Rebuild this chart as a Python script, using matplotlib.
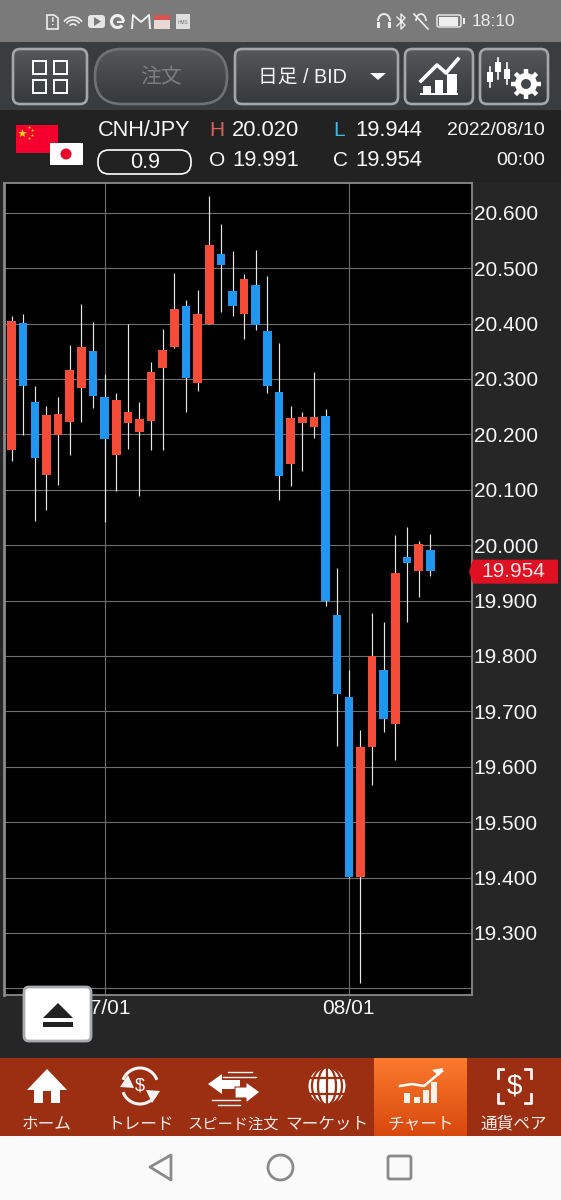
import numpy as np
import matplotlib
matplotlib.use('Agg')
import matplotlib.pyplot as plt
from matplotlib.patches import FancyBboxPatch, Polygon, Circle, Rectangle, Arc

#fonts: latin first, japanese falls through to noto
plt.rcParams['font.family'] = ['Liberation Sans', 'Noto Sans CJK JP', 'DejaVu Sans']

#candle values, one per day
opens = [20.172, 20.401, 20.258, 20.127, 20.198, 20.222, 20.284, 20.350, 20.267, 20.162,
         20.221, 20.205, 20.224, 20.320, 20.358, 20.431, 20.292, 20.400, 20.525, 20.458,
         20.417, 20.470, 20.386, 20.276, 20.146, 20.220, 20.214, 20.233, 19.874, 19.726,
         19.401, 19.636, 19.774, 19.678, 19.978, 19.954, 19.991]
highs = [20.414, 20.417, 20.288, 20.251, 20.267, 20.361, 20.435, 20.402, 20.308, 20.274,
         20.400, 20.258, 20.331, 20.390, 20.491, 20.443, 20.461, 20.630, 20.580, 20.531,
         20.489, 20.532, 20.485, 20.364, 20.251, 20.241, 20.313, 20.245, 19.958, 19.774,
         19.667, 19.877, 19.862, 20.018, 20.032, 20.008, 20.020]
lows = [20.152, 20.198, 20.044, 20.064, 20.109, 20.163, 20.222, 20.248, 20.041, 20.097,
        20.174, 20.088, 20.171, 20.171, 20.355, 20.240, 20.279, 20.400, 20.421, 20.414,
        20.372, 20.388, 20.275, 20.082, 20.106, 20.134, 20.193, 19.890, 19.637, 19.399,
        19.210, 19.568, 19.663, 19.613, 19.862, 19.906, 19.944]
closes = [20.405, 20.288, 20.157, 20.235, 20.237, 20.316, 20.357, 20.269, 20.191, 20.262,
          20.241, 20.228, 20.312, 20.352, 20.427, 20.302, 20.417, 20.542, 20.506, 20.432,
          20.480, 20.398, 20.288, 20.124, 20.230, 20.231, 20.231, 19.899, 19.732, 19.401,
          19.636, 19.800, 19.686, 19.949, 19.968, 20.002, 19.954]

price_ticks = [19.3, 19.4, 19.5, 19.6, 19.7, 19.8, 19.9, 20.0, 20.1, 20.2, 20.3, 20.4, 20.5, 20.6]
date_ticks = [8, 29]
date_labels = ['07/01', '08/01']
last_price = 19.954

tab_labels = ['ホーム', 'トレード', 'スピード注文', 'マーケット', 'チャート', '通貨ペア']

RED = '#F44C38'
BLUE = '#2196F0'
PANEL = '#262626'
W, H = 561, 1200

fig = plt.figure(figsize=(W / 100, H / 100), dpi=100, facecolor=PANEL)

#---------------------------- chart itself ----------------------------#
ax = fig.add_axes([4 / W, 1 - 994.5 / H, 467.5 / W, 811.5 / H], facecolor='black', zorder=1)
x = np.arange(len(opens))
o, h, l, c = map(np.array, (opens, highs, lows, closes))
colors = [RED if up else BLUE for up in c >= o]

ax.vlines(x, l, h, color='#e6e6e6', lw=0.85, zorder=3)
ax.bar(x, np.abs(c - o), bottom=np.minimum(o, c), width=0.74, color=colors, zorder=4)

ax.set_xlim(-0.65, 39.55)
ax.set_ylim(19.189, 20.6536)
ax.set_axisbelow(True)

#19.200 has a grid line but no label
ax.set_yticks([19.2] + price_ticks)
ax.set_yticklabels([''] + [f'{p:.3f}' for p in price_ticks])
ax.set_xticks(date_ticks)
ax.set_xticklabels(date_labels)
ax.yaxis.tick_right()
ax.tick_params(axis='y', length=0, pad=1.5, labelsize=15, labelcolor='#f7f7f7')
ax.tick_params(axis='x', length=0, pad=3.5, labelsize=15, labelcolor='#f7f7f7')
ax.grid(True, color='#6e6e6e', lw=0.8)
for name, spine in ax.spines.items():
    spine.set_color('#8a8a8a')
    spine.set_linewidth(1.3)
ax.spines['left'].set_linewidth(2)

#---------------------------- app chrome on top, in pixels ----------------------------#
ui = fig.add_axes([0, 0, 1, 1], zorder=2)
ui.patch.set_alpha(0)
ui.axis('off')


def reset_view():
    ui.set_xlim(0, W)
    ui.set_ylim(H, 0)


def hexrgb(col):
    return matplotlib.colors.to_rgb(col)


def grad(x0, x1, y0, y1, top, bottom, clip=None, z=1):
    a, b = np.array(hexrgb(top)), np.array(hexrgb(bottom))
    t = np.linspace(0, 1, 64)[:, None, None]
    img = a[None, None, :] * (1 - t) + b[None, None, :] * t
    im = ui.imshow(img, extent=[x0, x1, y1, y0], aspect='auto', zorder=z, interpolation='bilinear')
    if clip is not None:
        im.set_clip_path(clip)
    reset_view()


def rect(x0, y0, x1, y1, col, z=1, **kw):
    ui.add_patch(Rectangle((x0, y0), x1 - x0, y1 - y0, fc=col, ec='none', zorder=z, **kw))


def txt(px, py, s, size=15, col='#f7f7f7', ha='left', va='center', z=6, **kw):
    ui.text(px, py, s, fontsize=size, color=col, ha=ha, va=va, zorder=z, **kw)


def button(x0, y0, x1, y1, rad=7, edge='#a3a7a9', lw=1.9, alpha=1):
    fill = FancyBboxPatch((x0 + rad, y0 + rad), x1 - x0 - 2 * rad, y1 - y0 - 2 * rad,
                          boxstyle=f'round,pad={rad},rounding_size={rad}', fc='none', ec='none', zorder=2)
    ui.add_patch(fill)
    grad(x0, x1, y0, y1, '#54585b', '#36393b', clip=fill, z=2)
    ui.add_patch(FancyBboxPatch((x0 + rad, y0 + rad), x1 - x0 - 2 * rad, y1 - y0 - 2 * rad,
                                boxstyle=f'round,pad={rad},rounding_size={rad}', fc='none',
                                ec=edge, lw=lw, zorder=3, alpha=alpha))


reset_view()

#status bar
rect(0, 0, W, 42, '#7a7a7a')
txt(472, 21, '18:10', size=12.5, col='#ececec')
#sim card with the exclamation mark
ui.add_patch(Polygon([[47, 15], [54, 15], [58, 18], [58, 29], [47, 29]], fc='none', ec='#eeeeee', lw=1.2, zorder=5))
txt(52.5, 22, '!', size=8, col='#eeeeee', ha='center', weight='bold')
for r in [4, 8, 11]:
    ui.add_patch(Arc((73, 28), 2 * r, 2 * r, theta1=215, theta2=325, ec='#eeeeee', lw=1.2, zorder=5))
#video icon
ui.add_patch(FancyBboxPatch((90, 17), 13, 9, boxstyle='round,pad=2,rounding_size=3', fc='#e6e6e6', ec='none', zorder=5))
ui.add_patch(Polygon([[94, 17], [94, 26], [101, 21.5]], fc='#7a7a7a', ec='none', zorder=6))
#G icon
ui.add_patch(Arc((117.5, 21.5), 12, 12, theta1=40, theta2=360, ec='#eeeeee', lw=2.2, zorder=6))
rect(117, 20.5, 124, 23, '#eeeeee', z=6)
ui.plot([132, 133, 141, 149, 150], [28, 15, 22, 15, 28], color='#eeeeee', lw=1.4, zorder=5)
rect(154, 15, 170, 29, '#e8d9d5', z=5)
rect(154, 15, 170, 20, '#d9534f', z=5)
rect(176, 14, 190, 29, '#dedede', z=5)
txt(183, 22, 'HMS', size=3.5, col='#777777', ha='center')
ui.add_patch(Arc((384, 21), 12, 14, theta1=180, theta2=360, ec='#eeeeee', lw=1.4, zorder=5))
rect(377, 22, 380, 28, '#eeeeee', z=5)
rect(388, 22, 391, 28, '#eeeeee', z=5)
ui.plot([397, 405, 401, 401, 405, 397], [17, 25, 29, 14, 18, 26], color='#eeeeee', lw=1, zorder=5)
ui.add_patch(Arc((421, 21), 10, 14, theta1=180, theta2=360, ec='#eeeeee', lw=1.2, zorder=5))
ui.plot([414, 428], [14, 29], color='#eeeeee', lw=1.2, zorder=5)
ui.add_patch(FancyBboxPatch((438, 16), 22, 10, boxstyle='round,pad=1,rounding_size=2', fc='none', ec='#eeeeee', lw=1, zorder=5))
rect(439, 17, 458, 26, '#eeeeee', z=5)
rect(463, 18, 465, 24, '#eeeeee', z=5)

#toolbar
rect(0, 42, W, 110, '#3a3d3f')
button(13, 49, 87, 104)
for bx in [33, 54]:
    for by in [61, 80]:
        ui.add_patch(Rectangle((bx, by), 13, 13, fc='none', ec='white', lw=1.4, zorder=5))

button(95, 49, 227, 104, rad=27, edge='#6f7274', lw=1.9)
txt(161, 77.5, '注文', size=15, col='#7b7e80', ha='center')

button(235, 49, 398, 104)
txt(258, 77, '日足 / BID', size=14.2, col='#f5f5f5')
ui.add_patch(Polygon([[370, 73], [386, 73], [378, 80]], fc='white', ec='none', zorder=5))

button(405, 49, 473, 104)
ui.plot([421, 437, 446, 458], [81, 65, 73, 59], color='white', lw=2.6, zorder=5)
for bx, by, bw in [(423, 86, 8), (435, 80, 8), (447, 74, 10)]:
    rect(bx, by, bx + bw, 94, 'white', z=5)
rect(420, 93, 458, 95, 'white', z=5)

button(480, 49, 548, 104)
for cx, y0, y1, b0, b1 in [(490, 67, 87, 72, 82), (498, 58, 79, 62, 72), (507, 63, 84, 69, 79)]:
    ui.plot([cx, cx], [y0, y1], color='white', lw=1.2, zorder=5)
    rect(cx - 3, b0, cx + 3, b1, 'white', z=5)
ui.add_patch(Circle((526, 84), 11, fc='white', ec='none', zorder=5))
for ang in np.arange(0, 360, 45):
    ui.plot([526, 526 + 15 * np.cos(np.radians(ang))], [84, 84 + 15 * np.sin(np.radians(ang))],
            color='white', lw=3.2, zorder=5, solid_capstyle='butt')
ui.add_patch(Circle((526, 84), 5, fc='#45484a', ec='none', zorder=6))

#info panel
rect(0, 110, W, 182, '#222222')
rect(0, 183, 3, 994, PANEL)
rect(16, 125, 58, 153, '#f4002e', z=3)
ui.scatter([22], [133], marker='*', s=45, color='#ffd21f', zorder=4, lw=0)
ui.scatter([29, 32, 32, 29], [127, 130, 135, 138], marker='*', s=6, color='#ffd21f', zorder=4, lw=0)
rect(50, 143, 83, 165, 'white', z=3)
ui.add_patch(Circle((66, 154), 5.5, fc='#e8002c', ec='none', zorder=4))

txt(98, 131, 'CNH/JPY', size=15.7)
txt(209, 130.5, 'H', size=15, col='#d9625c')
txt(232, 130.5, '20.020', size=15.8)
txt(333, 130.5, 'L', size=15, col='#45b8e6')
txt(355, 130.5, '19.944', size=15.8)
txt(545, 130.5, '2022/08/10', size=14, ha='right')
txt(209, 160.5, 'O', size=15)
txt(232, 160.5, '19.991', size=15.8)
txt(333, 160.5, 'C', size=15)
txt(355, 160.5, '19.954', size=15.8)
txt(545, 160.5, '00:00', size=14, ha='right')
ui.add_patch(FancyBboxPatch((109, 161), 71, 2, boxstyle='round,pad=11,rounding_size=11', fc='none', ec='white', lw=1.2, zorder=5))
txt(145, 162, '0.9', size=15.5, ha='center')

#last price tag, height follows the value on the chart axis
tag_y = ax.get_position()
ymin, ymax = ax.get_ylim()
tag_py = H * (1 - (tag_y.y0 + tag_y.height * (last_price - ymin) / (ymax - ymin)))
ui.add_patch(Polygon([[469, tag_py + 1], [473, tag_py - 11], [558, tag_py - 11], [558, tag_py + 13], [473, tag_py + 13]],
                     fc='#e01023', ec='none', zorder=5))
txt(513, tag_py + 1, f'{last_price:.3f}', size=15, ha='center', col='#f7e6e6')

#eject button
ui.add_patch(FancyBboxPatch((28, 991), 59, 46, boxstyle='round,pad=4,rounding_size=5', fc='white', ec='#a8acae', lw=2, zorder=5))
ui.add_patch(Polygon([[43, 1018], [73, 1018], [58, 1003]], fc='#222222', ec='none', zorder=6))
rect(43, 1022, 73, 1027, '#222222', z=6)

#tab bar
rect(0, 1058, W, 1136, '#9c2f12')
grad(374, 467, 1058, 1136, '#fb7a2e', '#d8480c', z=2)
tab_x = [47, 141, 233.5, 327, 421, 514]
tab_size = [12, 12, 11, 12, 12, 12]
for tx, label, size in zip(tab_x, tab_labels, tab_size):
    txt(tx, 1124, label, size=size, col='#f7ece8', ha='center')

#home
ui.add_patch(Polygon([[27, 1090], [47, 1069], [67, 1090], [60, 1090], [60, 1103], [51, 1103], [51, 1091],
                      [43, 1091], [43, 1103], [34, 1103], [34, 1090]], fc='white', ec='none', zorder=5))
#trade
ui.add_patch(Arc((140, 1086), 36, 36, theta1=20, theta2=160, ec='#f5f5f5', lw=2.2, zorder=5))
ui.add_patch(Arc((140, 1086), 36, 36, theta1=200, theta2=340, ec='#f5f5f5', lw=2.2, zorder=5))
ui.add_patch(Polygon([[120, 1087], [128, 1075], [134, 1088]], fc='#f5f5f5', ec='none', zorder=5))
ui.add_patch(Polygon([[160, 1091], [152, 1103], [146, 1090]], fc='#f5f5f5', ec='none', zorder=5))
txt(140, 1086, '$', size=13, col='white', ha='center')
#speed order arrows
ui.add_patch(Polygon([[208, 1084], [222, 1074], [222, 1080], [240, 1080], [240, 1089], [222, 1089], [222, 1094]], fc='white', ec='none', zorder=5))
ui.add_patch(Polygon([[260, 1092], [246, 1082], [246, 1087], [235, 1087], [235, 1098], [246, 1098], [246, 1103]], fc='white', ec='#9c2f12', lw=0.8, zorder=5))
for x0, x1, yy in [(228, 252, 1072), (223, 256, 1077), (212, 240, 1100), (218, 240, 1105)]:
    ui.plot([x0, x1], [yy, yy], color='#f5f5f5', lw=1, zorder=5)
#globe
ui.add_patch(Circle((327, 1086), 18.5, fc='white', ec='none', zorder=5))
for yy in [1078, 1094]:
    ui.plot([308, 346], [yy, yy], color='#9c2f12', lw=1.6, zorder=6)
ui.plot([327, 327], [1067, 1105], color='#9c2f12', lw=1.6, zorder=6)
for wd in [18, 30]:
    ui.add_patch(Arc((327, 1086), wd, 38, ec='#9c2f12', lw=1.6, zorder=6))
#chart tab
ui.plot([400, 412, 424, 442], [1086, 1084, 1086, 1071], color='white', lw=1.8, zorder=5)
ui.add_patch(Polygon([[432, 1070], [443, 1068], [439, 1076]], fc='white', ec='none', zorder=5))
for bx, by in [(404, 1093), (414, 1097), (423, 1090), (431, 1082)]:
    rect(bx, by, bx + 6, 1103, '#fff3ea', z=5)
#currency pair
for xs, ys in [([503, 498, 498], [1069, 1069, 1078]), ([525, 531, 531], [1069, 1069, 1078]),
               ([503, 498, 498], [1103, 1103, 1094]), ([525, 531, 531], [1103, 1103, 1094])]:
    ui.plot(xs, ys, color='#f5f5f5', lw=2, zorder=5)
txt(514, 1086, '$', size=20, col='white', ha='center')

#android nav bar
rect(0, 1136, W, H, '#fafafa')
ui.add_patch(Polygon([[150, 1167], [171, 1155], [171, 1180]], fc='none', ec='#8a8a8a', lw=2, zorder=5, joinstyle='round'))
ui.add_patch(Circle((280.5, 1167.5), 12.5, fc='none', ec='#8a8a8a', lw=2, zorder=5))
ui.add_patch(FancyBboxPatch((389, 1157), 21, 21, boxstyle='round,pad=1,rounding_size=2', fc='none', ec='#8a8a8a', lw=2, zorder=5))

reset_view()
fig.savefig('out.png', dpi=100, facecolor=fig.get_facecolor())
